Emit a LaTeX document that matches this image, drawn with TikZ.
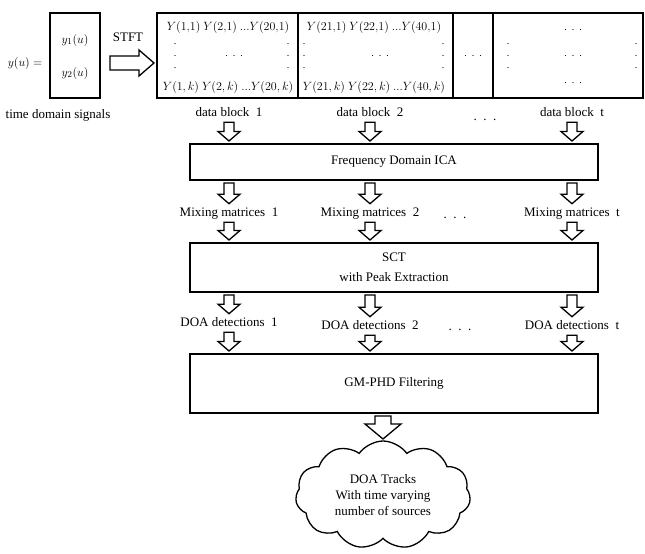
\documentclass[tikz,border=0pt]{standalone}
\usepackage{fontspec}
\setmainfont{Liberation Serif}
\usetikzlibrary{positioning,calc,shapes.symbols}
\tikzset{
  stage/.style={draw, line width=1.5pt, minimum width=408, minimum height=#1,
    align=center, outer sep=3pt, font=\fontsize{13}{20}\selectfont},
  blk/.style={draw, line width=1.5pt, minimum height=85, minimum width=#1,
    inner sep=0, outer sep=3pt},
  lbl/.style={font=\fontsize{13}{15}\selectfont, text height=9pt, text depth=2.5pt},
  entry/.style={font=\fontsize{12}{14}\selectfont, inner sep=0},
  vdts/.style={font=\fontsize{10}{12}\selectfont, align=center, inner sep=0},
  hdts/.style={font=\fontsize{10}{12}\selectfont, inner sep=0},
  hollow/.style args={#1,#2,#3}{draw, line width=1.3pt, fill=white, line join=miter,
    to path={
      ($(\tikztotarget)!#3!(\tikztostart)$) coordinate (hh)
      ($(\tikztostart)!#1!90:(\tikztotarget)$) -- ($(hh)!#1!90:(\tikztotarget)$)
      -- ($(hh)!#2!90:(\tikztotarget)$) -- (\tikztotarget)
      -- ($(hh)!#2!-90:(\tikztotarget)$) -- ($(hh)!#1!-90:(\tikztotarget)$)
      -- ($(\tikztostart)!#1!-90:(\tikztotarget)$) -- cycle}},
  small arrow/.style={hollow={5pt,11pt,9.5pt}}
}
\begin{document}
\begin{tikzpicture}[x=1pt, y=-1pt]
  \useasboundingbox (0,0) rectangle (645,554);
  % input signals
  \node[font=\fontsize{13}{15}\selectfont] (yu) at (25,63) {$y(u) =$};
  \node[draw, line width=1.5pt, minimum width=50, minimum height=85, outer sep=10pt] (sig) at (75,55.5) {};
  \node[font=\fontsize{12.5}{14}\selectfont] (y1) at (75,40) {$y_1(u)$};
  \node[font=\fontsize{12.5}{14}\selectfont] (y2) at (75,73) {$y_2(u)$};
  \node[lbl] (stft) at (128,38) {STFT};
  \node[lbl] (tds) at (58,115) {time domain signals};
  % time-frequency data blocks
  \node[blk=141] (blk1) at (227.5,55.5) {};
  \node[blk=155] (blk2) at (375.5,55.5) {};
  \node[blk=40] (blkd) at (473,55.5) {};
  \node[blk=150] (blkt) at (568,55.5) {};
  \draw[hollow={7pt,13pt,15pt}] (sig.east |- yu) to (blk1.west |- yu);
  \node[entry] (a11) at (228,27) {$Y(1{,}1)\ Y(2{,}1)\ ...Y(20{,}1)$};
  \node[entry] (a1k) at (228,87) {$Y(1,k)\ Y(2,k)\ ...Y(20,k)$};
  \node[vdts] (a1l) at (175,56) {.\\.\\.};
  \node[vdts] (a1r) at (288,56) {.\\.\\.};
  \node[hdts] (a1m) at (234,56) {.\ \ .\ \ .};
  \node[entry] (a21) at (374,27) {$Y(21{,}1)\ Y(22{,}1)\ ...Y(40{,}1)$};
  \node[entry] (a2k) at (374,87) {$Y(21,k)\ Y(22,k)\ ...Y(40,k)$};
  \node[vdts] (a2l) at (304,56) {.\\.\\.};
  \node[vdts] (a2r) at (443,56) {.\\.\\.};
  \node[hdts] (a2m) at (380,56) {.\ \ .\ \ .};
  \node[hdts] (adm) at (473,56) {.\ \ .\ \ .};
  \node[hdts] (at1) at (573,30) {.\ \ .\ \ .};
  \node[hdts] (atm) at (573,56) {.\ \ .\ \ .};
  \node[hdts] (atk) at (573,83) {.\ \ .\ \ .};
  \node[vdts] (atl) at (508,56) {.\\.\\.};
  \node[vdts] (atr) at (636,56) {.\\.\\.};
  % processing chain
  \node[lbl] (db1) at (229,113) {data block\ \ 1};
  \node[lbl] (db2) at (370,113) {data block\ \ 2};
  \node[lbl] (dbd) at (485,117) {.\ \ .\ \ .};
  \node[lbl] (dbt) at (572,113) {data block\ \ t};
  \node[stage=36] (ica) at (394,162) {Frequency Domain ICA};
  \node[lbl] (mm1) at (229,213) {Mixing matrices\ \ 1};
  \node[lbl] (mm2) at (370,213) {Mixing matrices\ \ 2};
  \node[lbl] (mmd) at (455,215) {.\ \ .\ \ .};
  \node[lbl] (mmt) at (572,213) {Mixing matrices\ \ t};
  \node[stage=49] (sct) at (394,267.5) {SCT\\with Peak Extraction};
  \node[lbl] (dd1) at (229,323) {DOA detections\ \ 1};
  \node[lbl] (dd2) at (370,326) {DOA detections\ \ 2};
  \node[lbl] (ddd) at (460,327) {.\ \ .\ \ .};
  \node[lbl] (ddt) at (572,326) {DOA detections\ \ t};
  \node[stage=59] (phd) at (394,383.5) {GM-PHD Filtering};
  \node[cloud, draw, line width=1.3pt, cloud puffs=11, cloud puff arc=110, aspect=1.6,
    minimum width=175, minimum height=108, align=center, inner sep=0, outer sep=2pt,
    font=\fontsize{13}{16}\selectfont] (trk) at (383,495)
    {DOA Tracks\\With time varying\\number of sources};
  \draw[small arrow] (db1.south) to (db1.south |- ica.north);
  \draw[small arrow] (db2.south) to (db2.south |- ica.north);
  \draw[small arrow] (dbt.south) to (dbt.south |- ica.north);
  \draw[small arrow] (mm1.north |- ica.south) to (mm1.north);
  \draw[small arrow] (mm2.north |- ica.south) to (mm2.north);
  \draw[small arrow] (mmt.north |- ica.south) to (mmt.north);
  \draw[small arrow] (mm1.south) to (mm1.south |- sct.north);
  \draw[small arrow] (mm2.south) to (mm2.south |- sct.north);
  \draw[small arrow] (mmt.south) to (mmt.south |- sct.north);
  \draw[small arrow] (dd1.north |- sct.south) to (dd1.north);
  \draw[small arrow] (dd2.north |- sct.south) to (dd2.north);
  \draw[small arrow] (ddt.north |- sct.south) to (ddt.north);
  \draw[small arrow] (dd1.south) to (dd1.south |- phd.north);
  \draw[small arrow] (dd2.south) to (dd2.south |- phd.north);
  \draw[small arrow] (ddt.south) to (ddt.south |- phd.north);
  \draw[hollow={8pt,18pt,15pt}] (trk.north |- phd.south) to (trk.north);
\end{tikzpicture}
\end{document}
